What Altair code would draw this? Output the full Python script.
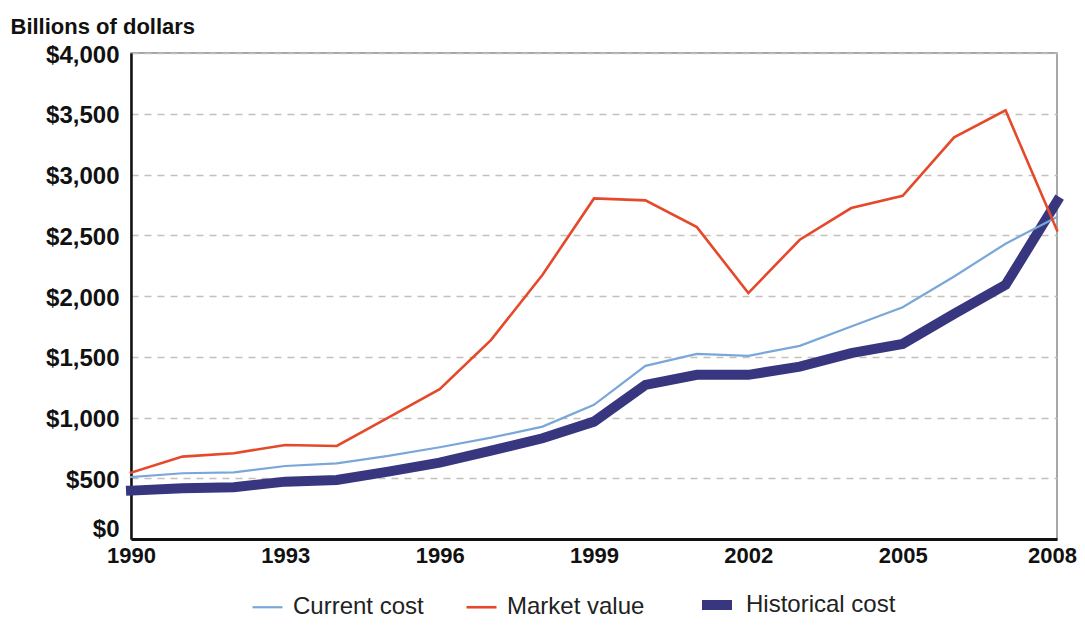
import altair as alt
import pandas as pd

years = list(range(1990, 2009))
series_names = ["Current cost", "Market value", "Historical cost"]
series_colors = ["#7aa7d9", "#e5492a", "#37367f"]
series_widths = [2.2, 2.6, 10]

current_cost = [510, 541, 549, 601, 623, 684, 755, 834, 925, 1104, 1425, 1524, 1507, 1590, 1749, 1908, 2161, 2430, 2650]
market_value = [546, 678, 706, 774, 766, 999, 1233, 1639, 2175, 2803, 2787, 2567, 2024, 2463, 2724, 2825, 3306, 3528, 2540]
historical_cost = [398, 417, 426, 472, 486, 555, 629, 727, 829, 966, 1268, 1351, 1351, 1419, 1530, 1606, 1853, 2092, 2778]

x_ticks = [1990, 1993, 1996, 1999, 2002, 2005, 2008]
y_ticks = [0, 500, 1000, 1500, 2000, 2500, 3000, 3500, 4000]

rows = []
for name, vals in [("Historical cost", historical_cost),
                   ("Current cost", current_cost),
                   ("Market value", market_value)]:
    for yr, v in zip(years, vals):
        rows.append({"year": yr, "value": v, "series": name})
df = pd.DataFrame(rows)

FONT = "Liberation Sans"

legend = alt.Legend(
    title=None, orient="none", legendX=120, legendY=532, direction="horizontal",
    labelFont=FONT, labelFontSize=24, labelColor="#222", labelOffset=9,
    labelLimit=400, columnPadding=37, symbolType="stroke", symbolSize=900,
)

chart = alt.Chart(df).mark_line(strokeCap="square", clip=False).encode(
    x=alt.X("year:Q",
            scale=alt.Scale(domain=[1990, 2008], nice=False, zero=False),
            axis=alt.Axis(values=x_ticks, format="d", title=None, grid=False,
                          ticks=False, labelPadding=6, labelFont=FONT,
                          labelFontSize=22, labelFontWeight="bold", labelColor="#111",
                          labelOffset={"condition": {"test": "datum.value === 2008", "value": -5}, "value": 0},
                          domainColor="#111", domainWidth=3, labelFlush=False)),
    y=alt.Y("value:Q",
            scale=alt.Scale(domain=[0, 4000], nice=False),
            axis=alt.Axis(values=y_ticks, format="$,.0f", title="Billions of dollars",
                          titleAngle=0, titleAlign="left", titleBaseline="alphabetic",
                          titleX=-121, titleY=-20, titleFont=FONT, titleFontSize=22,
                          titleFontWeight="bold", titleColor="#111",
                          ticks=False, labelPadding=12, labelFont=FONT,
                          labelFontSize=24, labelFontWeight="bold", labelColor="#111",
                          labelOffset={"condition": {"test": "datum.value === 0", "value": -10}, "value": 2},
                          domainColor="#111", domainWidth=2.5,
                          grid=True, gridColor="#c4c0bc", gridDash=[7, 6], gridWidth=1.5)),
    color=alt.Color("series:N", scale=alt.Scale(domain=series_names, range=series_colors),
                    legend=legend),
    strokeWidth=alt.StrokeWidth("series:N",
                                scale=alt.Scale(type="ordinal", domain=series_names, range=series_widths),
                                legend=legend),
).properties(
    width=926, height=486,
    autosize=alt.AutoSizeParams(type="none"),
    padding={"left": 123, "top": 45, "right": 20, "bottom": 80},
).configure_view(
    stroke="#8a8a8a", strokeWidth=1.5
)

chart.save("out.html", embed_options={"renderer": "svg", "actions": False})
